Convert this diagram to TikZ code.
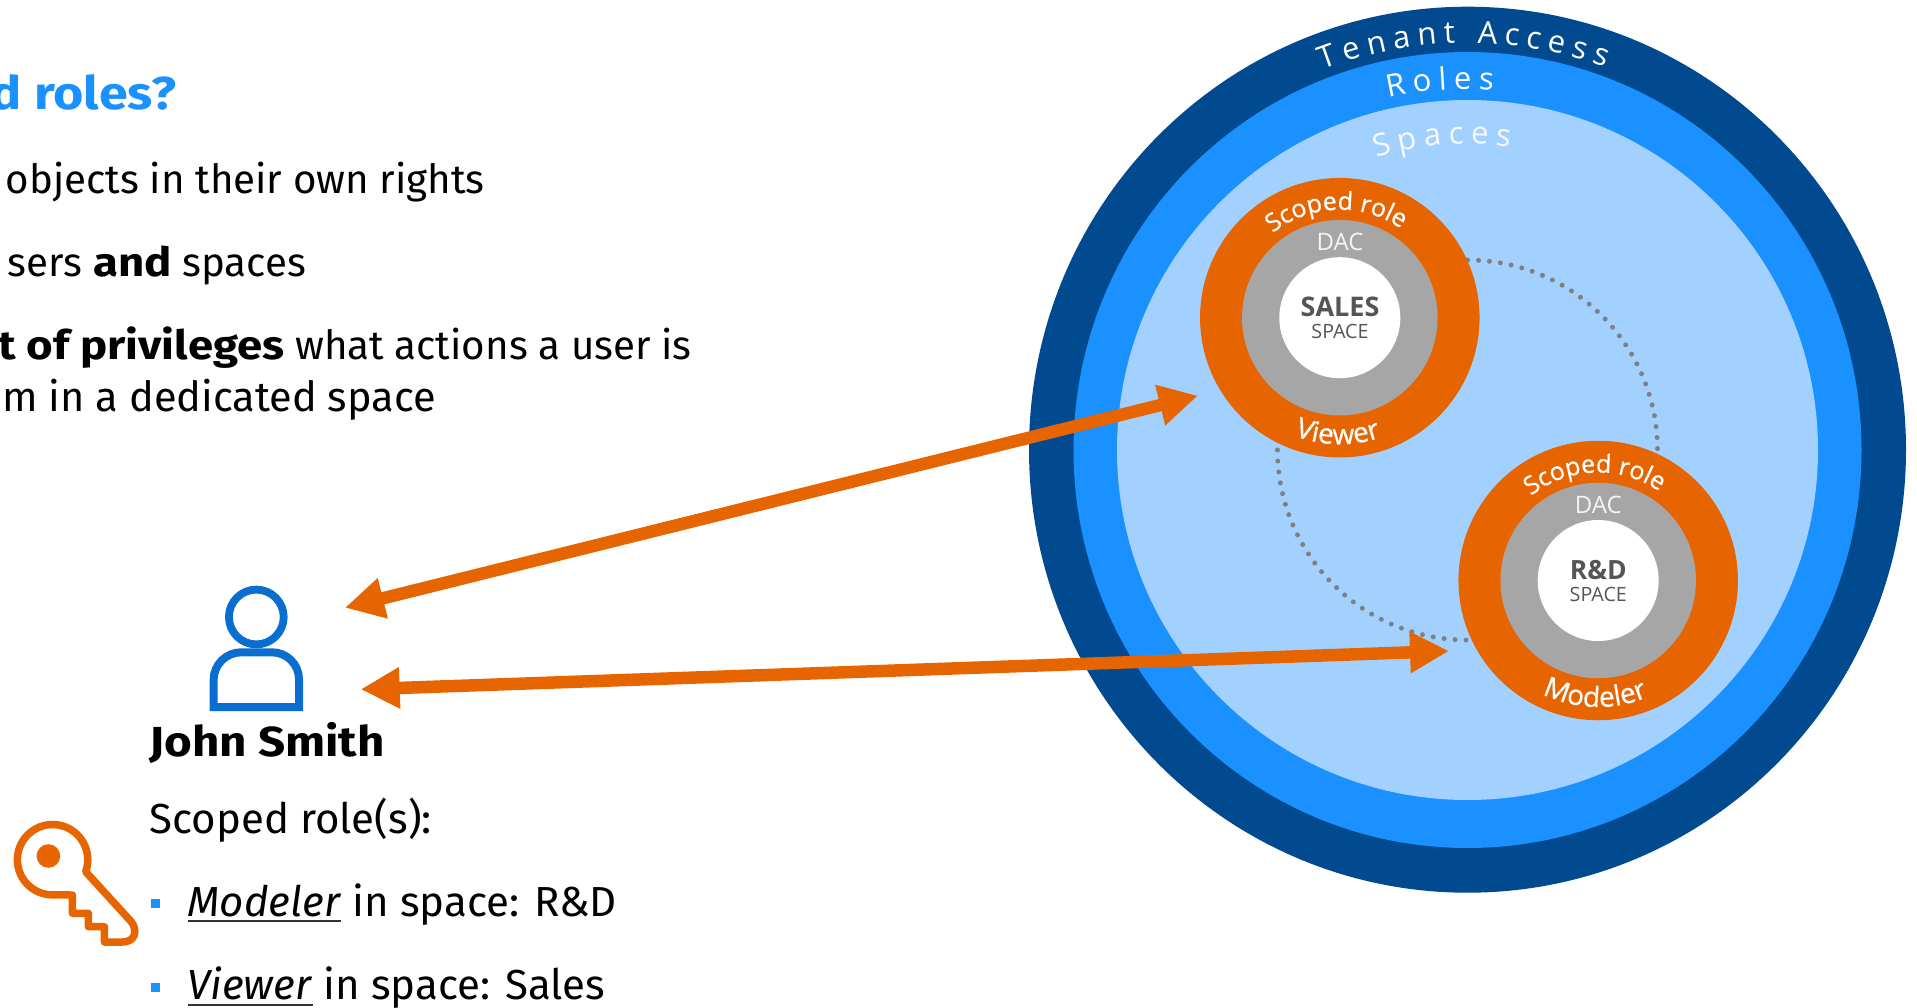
\documentclass[tikz,border=0pt]{standalone}
\usepackage{fontspec}
\usetikzlibrary{arrows.meta,decorations.text,shapes.geometric}
\setmainfont{Fira Sans}
\newfontfamily\ringfont{Open Sans}
\newfontfamily\rolefont[FakeBold=0.5]{Open Sans}
\definecolor{cOuter}{HTML}{014A8F}
\definecolor{cRoles}{HTML}{1B90FF}
\definecolor{cSpaces}{HTML}{A3D1FF}
\definecolor{cOrange}{HTML}{E76500}
\definecolor{cGray}{HTML}{A6A6A6}
\definecolor{cDark}{HTML}{555555}
\definecolor{cDot}{HTML}{808080}
\definecolor{cUser}{HTML}{0A6ED1}
\newcommand\topfs{\fontsize{40.3}{50}\selectfont}
\newcommand\bodyfs{\fontsize{42}{50}\selectfont}
\newcommand\headfs{\fontsize{46}{54}\selectfont}
\newcommand\ringfs{\ringfont\fontsize{31}{34}\selectfont}
\newcommand\rolefs{\rolefont\fontsize{25}{28}\selectfont}
\newcommand\rolebfs{\rolefont\fontsize{28}{30}\selectfont}
\newcommand\mybf[1]{{\bfseries\addfontfeature{FakeStretch=1.13}#1}}
\newsavebox\ulbox
\newcommand\myul[1]{\sbox\ulbox{#1}\rlap{\color{black!80}\rule[-6pt]{\wd\ulbox}{1.6pt}}\usebox\ulbox}
\newdimen\arcw \newdimen\arcpos \newdimen\arcch
\newcommand\arcmeasure[1]{\pgfinterruptpicture\setbox0\hbox{\ringfs #1}\global\arcch=\wd0\relax\endpgfinterruptpicture}
% #1 centre, #2 radius, #3 mid angle, #4 letter gap (pt), #5 colour, #6 name prefix, #7 letters
\newcommand\spacedarc[7]{%
  \global\arcw=0pt
  \foreach \ltr in {#7}{\arcmeasure{\ltr}\global\advance\arcw by \arcch\relax \global\advance\arcw by #4pt\relax}%
  \global\arcpos=0pt
  \foreach \ltr [count=\i] in {#7}{%
    \arcmeasure{\ltr}%
    \pgfmathsetmacro\ang{#3+(0.5*\arcw-\arcpos-0.5*\arcch-#4*0.5)/#2*57.29578}%
    \node[anchor=base,inner sep=0pt,text=#5,font=\ringfs,rotate=\ang-90] (#6\i) at ([shift={(#1)}]\ang:#2pt) {\ltr};
    \global\advance\arcpos by \arcch\relax \global\advance\arcpos by #4pt\relax
  }%
}
\tikzset{
 x=1pt,y=1pt,
 ttext/.style={anchor=base west,inner sep=0pt,font=\bodyfs,text=black},
 rtext/.style={anchor=base east,inner sep=0pt,font=\topfs,text=black},
 disc/.style={circle,inner sep=0pt,minimum size=#1},
 centertext/.style={anchor=base,inner sep=0pt},
 link/.style={draw=cOrange,line width=12.5pt,{Triangle[length=39pt,width=39pt]}-{Triangle[length=39pt,width=39pt]}},
 dots/.style={draw=cDot,line width=5pt,line cap=round,dash pattern=on 0pt off 11pt},
 curved/.style 2 args={decorate,decoration={text along path,text color=white,text={|#1|#2},text align=center}},
 bullet/.style={fill=cRoles,inner sep=0pt,minimum size=9.3pt,rectangle},
}
\begin{document}
\begin{tikzpicture}
\useasboundingbox (0,0) rectangle (1917,-1007);
\clip (0,0) rectangle (1917,-1007);
% rings
\fill[cOuter] (1467.5,-449.7) ellipse[x radius=438.5pt,y radius=443pt];
\fill[cRoles] (1467.5,-450) ellipse[x radius=394pt,y radius=398pt];
\fill[cSpaces] (1467.5,-450) ellipse[x radius=350.5pt,y radius=350pt];
\coordinate (ringc) at (1467.5,-450);
\spacedarc{ringc}{407}{90.5}{7}{white}{ta}{T,e,n,a,n,t,~,A,c,c,e,s,s}
\spacedarc{ringc}{361}{94.3}{7}{white}{ro}{R,o,l,e,s}
\spacedarc{ringc}{306}{94.7}{7}{white!90!cSpaces}{sp}{S,p,a,c,e,s}
% dotted arcs
\draw[dots] ([shift={(ringc)}]90:190pt) arc[start angle=90,end angle=0,radius=190pt];
\draw[dots] ([shift={(ringc)}]180:190pt) arc[start angle=180,end angle=270,radius=190pt];
% sales
\node[disc=279.5pt,fill=cOrange] (salesO) at (1339.8,-317.7) {};
\node[disc=195.5pt,fill=cGray] (salesG) at (salesO) {};
\node[disc=121pt,fill=white] (salesW) at (salesO) {};
\path[curved={\rolefs}{Scoped role}] ([shift={(salesO)}]137:108pt) arc[start angle=137,end angle=47,radius=108pt];
\path[curved={\rolebfs}{Viewer}] ([shift={(salesO)}]224:126.5pt) arc[start angle=224,end angle=314,radius=126.5pt];
\node[centertext,font=\ringfont\fontsize{24}{28}\selectfont,text=white!88!cGray] (dac1) at (1340,-250.5) {DAC};
\node[centertext,font=\ringfont\bfseries\fontsize{27}{28}\selectfont,text=cDark] (sales) at (1340,-316) {SALES};
\node[centertext,font=\ringfont\fontsize{19.7}{20}\selectfont,text=cDark] (sp1) at (1340,-338.7) {SPACE};
% r&d
\node[disc=279.5pt,fill=cOrange] (rdO) at (1598.2,-580.5) {};
\node[disc=195.5pt,fill=cGray] (rdG) at (rdO) {};
\node[disc=121pt,fill=white] (rdW) at (rdO) {};
\path[curved={\rolefs}{Scoped role}] ([shift={(rdO)}]137:108pt) arc[start angle=137,end angle=47,radius=108pt];
\path[curved={\rolebfs}{Modeler}] ([shift={(rdO)}]223.5:126.5pt) arc[start angle=223.5,end angle=313.5,radius=126.5pt];
\node[centertext,font=\ringfont\fontsize{24}{28}\selectfont,text=white!88!cGray] (dac2) at (1598.3,-513) {DAC};
\node[centertext,font=\ringfont\bfseries\fontsize{26.5}{28}\selectfont,text=cDark] (rd) at (1598.3,-579) {R\&D};
\node[centertext,font=\ringfont\fontsize{19.7}{20}\selectfont,text=cDark] (sp2) at (1598.3,-601.5) {SPACE};
% arrows
\coordinate (userA) at (345,-607.7);
\coordinate (salesA) at (1198,-395.7);
\coordinate (userB) at (360.7,-689.3);
\coordinate (rdA) at (1449,-651);
\draw[link] (userA) -- (salesA);
\draw[link] (userB) -- (rdA);
% left text
\node[rtext,font=\headfs,text=cRoles] (title) at (176.5,-109) {\mybf{d roles?}};
\node[rtext] (l1) at (485,-193.3) {objects in their own rights};
\node[rtext] (l2) at (306,-276) {sers \mybf{and} spaces};
\node[rtext] (l3) at (692,-359.3) {\mybf{t of privileges} what actions a user is};
\node[rtext,font=\fontsize{41.5}{50}\selectfont] (l4) at (436,-411) {m in a dedicated space};
\node[ttext] (john) at (149.4,-756) {\mybf{John Smith}};
\node[ttext] (scoped) at (149.4,-833.2) {Scoped role(s):};
\node[bullet] (b1) at (155.3,-903.8) {};
\node[ttext] (r1) at (187.3,-916) {\myul{\textit{Modeler}} in space: R\&D};
\node[bullet] (b2) at (155.3,-987.8) {};
\node[ttext] (r2) at (187.3,-999.5) {\myul{\textit{Viewer}} in space: Sales};
% user icon
\draw[cUser,line width=7.8pt] (256.3,-617) circle[radius=27.4pt];
\draw[cUser,line width=8pt,miter limit=10] (213.6,-707) -- (213.6,-680) arc[start angle=180,end angle=90,radius=27.7pt] -- (272,-652.3) arc[start angle=90,end angle=0,radius=27pt] -- (299,-707) -- cycle;
% key icon
\draw[cOrange,line width=7.5pt,line join=round] (72.4,-895) -- (52.6,-894.9) arc[start angle=270,end angle=-20,radius=35.2pt] -- (131.3,-921.7) .. controls (137,-929) and (137,-942) .. (122,-942) -- (104.4,-942) -- (104.4,-926.7) -- (88.4,-926.7) -- (88.4,-913.3) -- (72.4,-913.3) -- cycle;
\fill[cOrange] (48.4,-856) circle[radius=11.8pt];
\end{tikzpicture}
\end{document}
